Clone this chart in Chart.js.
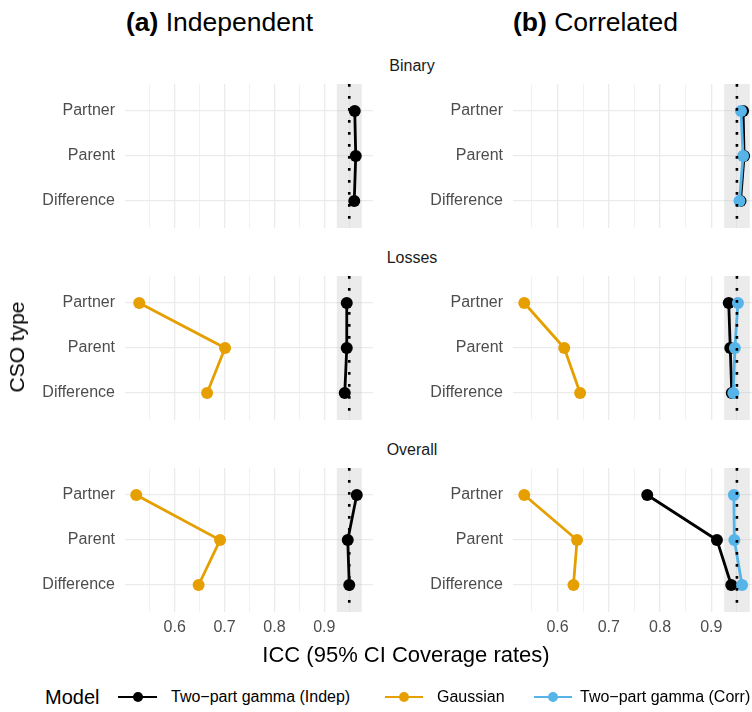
<!DOCTYPE html>
<html>
<head>
<meta charset="utf-8">
<script src="https://cdn.jsdelivr.net/npm/chart.js@4.4.1/dist/chart.umd.min.js"></script>
<style>
  html, body { margin: 0; padding: 0; background: #ffffff; width: 752px; height: 712px; overflow: hidden; }
  body { position: relative; font-family: "Liberation Sans", Arial, Helvetica, sans-serif; color: #000; }
  canvas { position: absolute; }
  .txt { position: absolute; white-space: nowrap; }
  .title { font-size: 26.5px; line-height: 30px; }
  .strip { font-size: 16px; line-height: 20px; color: #1A1A1A; transform: translateX(-50%); }
  .key { position: absolute; height: 40px; }
  .key .ln { position: absolute; left: 0; right: 0; top: 18.6px; height: 2.8px; }
  .key .dot { position: absolute; left: 50%; top: 15px; width: 10px; height: 10px; margin-left: -5px; border-radius: 50%; }
  .lab { font-size: 16px; line-height: 20px; }
</style>
</head>
<body>
<script>
// CSO types (y categories), outcome facets and x tick values
const csoTypes = ['Partner', 'Parent', 'Difference'];
const outcomes = ['Binary', 'Losses', 'Overall'];
const xTickValues = [0.55, 0.6, 0.65, 0.7, 0.75, 0.8, 0.85, 0.9, 0.95];
const xLabelledTicks = [0.6, 0.7, 0.8, 0.9];
const xLimitsIndep = [0.5004, 0.9976];
const xLimitsCorr = [0.513, 0.997];

// nominal coverage and its acceptable band
const nominalCoverage = 0.95;
const coverageBand = [0.925, 0.975];

// model names and colours
const modelNames = ['Two\u2212part gamma (Indep)', 'Gaussian', 'Two\u2212part gamma (Corr)'];
const modelColors = ['#000000', '#E69F00', '#56B4E9'];

// (a) Independent: coverage rates by CSO type (Partner, Parent, Difference)
const indepBinaryGammaIndep = [0.961, 0.963, 0.960];
const indepLossesGammaIndep = [0.945, 0.945, 0.941];
const indepLossesGaussian   = [0.529, 0.701, 0.665];
const indepOverallGammaIndep = [0.965, 0.947, 0.950];
const indepOverallGaussian   = [0.523, 0.691, 0.648];

// (b) Correlated
const corrBinaryGammaIndep  = [0.962, 0.964, 0.957];
const corrBinaryGammaCorr   = [0.958, 0.962, 0.955];
const corrLossesGammaIndep  = [0.934, 0.937, 0.940];
const corrLossesGaussian    = [0.535, 0.613, 0.644];
const corrLossesGammaCorr   = [0.952, 0.946, 0.943];
const corrOverallGammaIndep = [0.775, 0.911, 0.939];
const corrOverallGaussian   = [0.535, 0.638, 0.631];
const corrOverallGammaCorr  = [0.944, 0.945, 0.960];

// panels: [column][row] -> list of [modelIndex, values]
const panels = [
  [
    [[0, indepBinaryGammaIndep]],
    [[0, indepLossesGammaIndep], [1, indepLossesGaussian]],
    [[0, indepOverallGammaIndep], [1, indepOverallGaussian]]
  ],
  [
    [[0, corrBinaryGammaIndep], [2, corrBinaryGammaCorr]],
    [[0, corrLossesGammaIndep], [1, corrLossesGaussian], [2, corrLossesGammaCorr]],
    [[0, corrOverallGammaIndep], [1, corrOverallGaussian], [2, corrOverallGammaCorr]]
  ]
];

// layout of the facet grid
const columns = [
  { left: 0,   width: 373, axisWidth: 125, limits: xLimitsIndep },
  { left: 390, width: 371, axisWidth: 123, limits: xLimitsCorr }
];
const rowTops = [84, 276, 468];
const panelHeight = 144;
const bottomAxisHeight = 40;

const FONT = '"Liberation Sans", Arial, Helvetica, sans-serif';
const GRID = '#EBEBEB';
const TICK = '#4D4D4D';
const isMajor = v => xLabelledTicks.some(t => Math.abs(t - v) < 1e-9);

const coveragePlugin = {
  id: 'coverage',
  beforeDatasetsDraw(chart) {
    const { ctx, chartArea: { top, bottom }, scales: { x } } = chart;
    const x0 = x.getPixelForValue(coverageBand[0]);
    const x1 = x.getPixelForValue(coverageBand[1]);
    ctx.save();
    ctx.fillStyle = 'rgba(190,190,190,0.3)';
    ctx.fillRect(x0, top, x1 - x0, bottom - top);
    ctx.restore();
  },
  afterDatasetsDraw(chart) {
    const { ctx, chartArea: { top, bottom }, scales: { x } } = chart;
    const xp = x.getPixelForValue(nominalCoverage);
    ctx.save();
    ctx.strokeStyle = '#000';
    ctx.lineWidth = 2.6;
    ctx.lineCap = 'butt';
    ctx.setLineDash([2.7, 9.3]);
    ctx.beginPath();
    ctx.moveTo(xp, top);
    ctx.lineTo(xp, bottom);
    ctx.stroke();
    ctx.restore();
  }
};

function makePanel(ci, ri) {
  const col = columns[ci];
  const isBottom = ri === rowTops.length - 1;
  const canvas = document.createElement('canvas');
  canvas.width = col.width;
  canvas.height = panelHeight + (isBottom ? bottomAxisHeight : 0);
  canvas.style.left = col.left + 'px';
  canvas.style.top = rowTops[ri] + 'px';
  document.body.appendChild(canvas);

  const datasets = panels[ci][ri].map(([m, values]) => ({
    label: modelNames[m],
    data: values.map((v, i) => ({ x: v, y: i + 1 })),
    borderColor: modelColors[m],
    backgroundColor: modelColors[m],
    pointBackgroundColor: modelColors[m],
    borderWidth: 2.8,
    pointRadius: 6,
    pointHoverRadius: 6,
    pointBorderWidth: 0,
    tension: 0,
    clip: false,
    order: 3 - m
  }));

  new Chart(canvas, {
    type: 'line',
    data: { datasets },
    options: {
      responsive: false,
      animation: false,
      devicePixelRatio: 1,
      layout: { padding: 0, autoPadding: false },
      events: [],
      plugins: { legend: { display: false }, tooltip: { enabled: false } },
      scales: {
        x: {
          type: 'linear',
          min: col.limits[0],
          max: col.limits[1],
          afterBuildTicks: s => { s.ticks = xTickValues.map(v => ({ value: v })); },
          ticks: {
            display: isBottom,
            autoSkip: false,
            maxRotation: 0,
            padding: 6,
            color: TICK,
            font: { family: FONT, size: 16 },
            callback: v => isMajor(v) ? String(v) : ''
          },
          grid: {
            color: GRID,
            drawTicks: false,
            lineWidth: c => (c.tick && isMajor(c.tick.value)) ? 1.3 : 0.7
          },
          border: { display: false },
          afterFit: s => {
            s.height = isBottom ? bottomAxisHeight : 0;
            s.paddingLeft = 0; s.paddingRight = 0;
          }
        },
        y: {
          type: 'linear',
          min: 0.4,
          max: 3.6,
          reverse: true,
          afterBuildTicks: s => { s.ticks = csoTypes.map((_, i) => ({ value: i + 1 })); },
          ticks: {
            padding: 10,
            color: TICK,
            font: { family: FONT, size: 16 },
            callback: v => csoTypes[v - 1]
          },
          grid: { color: GRID, drawTicks: false, lineWidth: 1.3 },
          border: { display: false },
          afterFit: s => {
            s.width = col.axisWidth;
            s.paddingTop = 0; s.paddingBottom = 0;
          }
        }
      }
    },
    plugins: [coveragePlugin]
  });
}

for (let ci = 0; ci < columns.length; ci++) {
  for (let ri = 0; ri < rowTops.length; ri++) makePanel(ci, ri);
}

// text: titles, facet strips, axis titles
function addText(html, cls, style) {
  const d = document.createElement('div');
  d.className = 'txt ' + cls;
  d.innerHTML = html;
  Object.assign(d.style, style);
  document.body.appendChild(d);
  return d;
}
addText('<b>(a)</b> Independent', 'title', { left: '126px', top: '7px' });
addText('<b>(b)</b> Correlated', 'title', { left: '513px', top: '7px' });
const stripCentres = [66, 258, 450];
outcomes.forEach((o, i) => addText(o, 'strip', { left: '412px', top: (stripCentres[i] - 10) + 'px' }));
addText('ICC (95% CI Coverage rates)', '', {
  left: '406px', top: '642px', fontSize: '22px', lineHeight: '26px', transform: 'translateX(-50%)'
});
addText('CSO type', '', {
  left: '17px', top: '347px', fontSize: '21px', lineHeight: '24px',
  transform: 'translate(-50%, -50%) rotate(-90deg)'
});

// legend
addText('Model', '', { left: '45px', top: '685px', fontSize: '20px', lineHeight: '24px' });
const keyPos = [[118, 157, 171], [385, 423, 437], [534, 572, 580]];
modelNames.forEach((name, i) => {
  const k = document.createElement('div');
  k.className = 'key';
  k.style.left = keyPos[i][0] + 'px';
  k.style.width = (keyPos[i][1] - keyPos[i][0]) + 'px';
  k.style.top = '677px';
  k.innerHTML = '<div class="ln" style="background:' + modelColors[i] + '"></div><div class="dot" style="background:' + modelColors[i] + '"></div>';
  document.body.appendChild(k);
  addText(name, 'lab', { left: keyPos[i][2] + 'px', top: '687px' });
});
</script>
</body>
</html>
